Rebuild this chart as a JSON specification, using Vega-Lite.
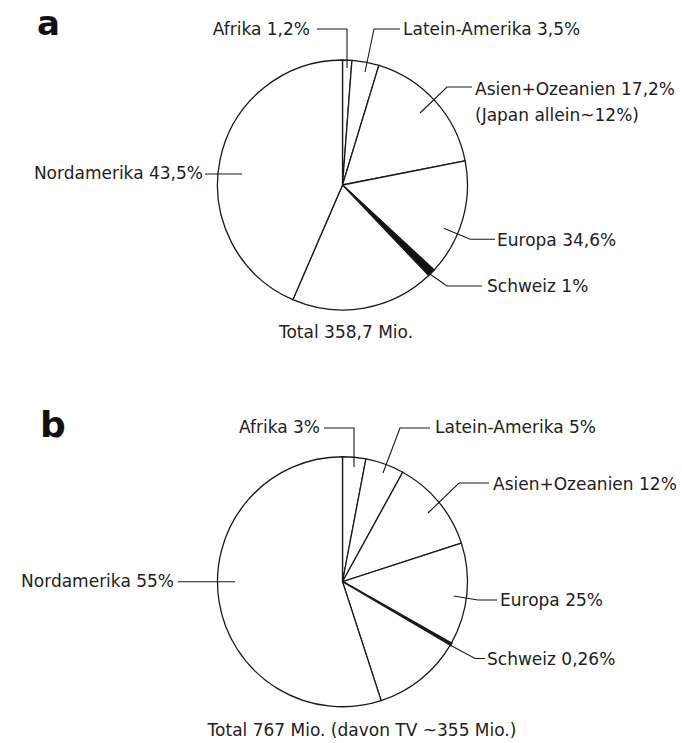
{
  "$schema": "https://vega.github.io/schema/vega-lite/v6.json",
  "padding": 0,
  "spacing": 0,
  "background": "white",
  "config": {
    "view": {"stroke": null},
    "text": {"font": "DejaVu Sans", "fontSize": 17, "color": "#222222"}
  },
  "datasets": {
    "slices": [
      {"chart": "a", "seq": 1, "region": "Afrika", "share": 1.2},
      {"chart": "a", "seq": 2, "region": "Latein-Amerika", "share": 3.5},
      {"chart": "a", "seq": 3, "region": "Asien+Ozeanien", "share": 17.2},
      {"chart": "a", "seq": 4, "region": "Europa", "share": 15.0},
      {"chart": "a", "seq": 5, "region": "Schweiz", "share": 1.0},
      {"chart": "a", "seq": 6, "region": "Europa", "share": 18.6},
      {"chart": "a", "seq": 7, "region": "Nordamerika", "share": 43.5},
      {"chart": "b", "seq": 1, "region": "Afrika", "share": 3},
      {"chart": "b", "seq": 2, "region": "Latein-Amerika", "share": 5},
      {"chart": "b", "seq": 3, "region": "Asien+Ozeanien", "share": 12},
      {"chart": "b", "seq": 4, "region": "Europa", "share": 13.2},
      {"chart": "b", "seq": 5, "region": "Schweiz", "share": 0.26},
      {"chart": "b", "seq": 6, "region": "Europa", "share": 11.54},
      {"chart": "b", "seq": 7, "region": "Nordamerika", "share": 55}
    ],
    "leaders": [
      {"chart": "a", "id": "Afrika", "seq": 1, "x": -20.4, "y": 124.8},
      {"chart": "a", "id": "Afrika", "seq": 2, "x": 3.6, "y": 124.8},
      {"chart": "a", "id": "Afrika", "seq": 3, "x": 3.6, "y": 93.6},
      {"chart": "a", "id": "Latein", "seq": 1, "x": 46, "y": 124.8},
      {"chart": "a", "id": "Latein", "seq": 2, "x": 25.2, "y": 124.8},
      {"chart": "a", "id": "Latein", "seq": 3, "x": 18, "y": 90.4},
      {"chart": "a", "id": "Asien", "seq": 1, "x": 103.6, "y": 78.4},
      {"chart": "a", "id": "Asien", "seq": 2, "x": 83.6, "y": 78.4},
      {"chart": "a", "id": "Asien", "seq": 3, "x": 62, "y": 57.6},
      {"chart": "a", "id": "Europa", "seq": 1, "x": 81, "y": -34.6},
      {"chart": "a", "id": "Europa", "seq": 2, "x": 102.2, "y": -43.4},
      {"chart": "a", "id": "Europa", "seq": 3, "x": 122, "y": -43.4},
      {"chart": "a", "id": "Schweiz", "seq": 1, "x": 69, "y": -70.6},
      {"chart": "a", "id": "Schweiz", "seq": 2, "x": 83.6, "y": -80.8},
      {"chart": "a", "id": "Schweiz", "seq": 3, "x": 111.6, "y": -80.8},
      {"chart": "a", "id": "Nord", "seq": 1, "x": -110, "y": 8.8},
      {"chart": "a", "id": "Nord", "seq": 2, "x": -80.4, "y": 8.8},
      {"chart": "b", "id": "Afrika", "seq": 1, "x": -14.8, "y": 123},
      {"chart": "b", "id": "Afrika", "seq": 2, "x": 9.2, "y": 123},
      {"chart": "b", "id": "Afrika", "seq": 3, "x": 9.2, "y": 91.8},
      {"chart": "b", "id": "Latein", "seq": 1, "x": 70, "y": 123},
      {"chart": "b", "id": "Latein", "seq": 2, "x": 46, "y": 123},
      {"chart": "b", "id": "Latein", "seq": 3, "x": 32.4, "y": 87},
      {"chart": "b", "id": "Asien", "seq": 1, "x": 117.2, "y": 79},
      {"chart": "b", "id": "Asien", "seq": 2, "x": 93.2, "y": 79},
      {"chart": "b", "id": "Asien", "seq": 3, "x": 68.4, "y": 55},
      {"chart": "b", "id": "Europa", "seq": 1, "x": 89, "y": -11.4},
      {"chart": "b", "id": "Europa", "seq": 2, "x": 108.4, "y": -14.6},
      {"chart": "b", "id": "Europa", "seq": 3, "x": 123.6, "y": -14.6},
      {"chart": "b", "id": "Schweiz", "seq": 1, "x": 86, "y": -50.6},
      {"chart": "b", "id": "Schweiz", "seq": 2, "x": 106, "y": -61.4},
      {"chart": "b", "id": "Schweiz", "seq": 3, "x": 114, "y": -61.4},
      {"chart": "b", "id": "Nord", "seq": 1, "x": -131.6, "y": 0},
      {"chart": "b", "id": "Nord", "seq": 2, "x": -86, "y": 0}
    ],
    "labels": [
      {"chart": "a", "kind": "right", "text": "Afrika 1,2%", "x": -26, "y": 124},
      {"chart": "a", "kind": "left", "text": "Latein-Amerika 3,5%", "x": 48.4, "y": 124},
      {"chart": "a", "kind": "left", "text": "Asien+Ozeanien 17,2%", "x": 106, "y": 76},
      {"chart": "a", "kind": "left", "text": "(Japan allein~12%)", "x": 106, "y": 55.2},
      {"chart": "a", "kind": "left", "text": "Europa 34,6%", "x": 123.6, "y": -44.8},
      {"chart": "a", "kind": "left", "text": "Schweiz 1%", "x": 115.6, "y": -81.6},
      {"chart": "a", "kind": "right", "text": "Nordamerika 43,5%", "x": -111.6, "y": 9.2},
      {"chart": "a", "kind": "center", "text": "Total 358,7 Mio.", "x": 2.8, "y": -118.4},
      {"chart": "a", "kind": "letter", "text": "a", "x": -244.4, "y": 120},
      {"chart": "b", "kind": "right", "text": "Afrika 3%", "x": -18, "y": 123},
      {"chart": "b", "kind": "left", "text": "Latein-Amerika 5%", "x": 74, "y": 123},
      {"chart": "b", "kind": "left", "text": "Asien+Ozeanien 12%", "x": 120.4, "y": 77.4},
      {"chart": "b", "kind": "left", "text": "Europa 25%", "x": 126, "y": -15.4},
      {"chart": "b", "kind": "left", "text": "Schweiz 0,26%", "x": 115.6, "y": -62.6},
      {"chart": "b", "kind": "right", "text": "Nordamerika 55%", "x": -134.8, "y": 0},
      {"chart": "b", "kind": "center", "text": "Total 767 Mio. (davon TV ~355 Mio.)", "x": 15.6, "y": -119.5},
      {"chart": "b", "kind": "letter", "text": "b", "x": -242, "y": 115.8}
    ]
  },
  "vconcat": [
    {
      "width": 682,
      "height": 371,
      "layer": [
        {
          "data": {"name": "slices"},
          "transform": [{"filter": "datum.chart === 'a'"}],
          "mark": {"type": "arc", "outerRadius": 125, "stroke": "#1a1a1a", "strokeWidth": 1.3},
          "encoding": {
            "x": {"datum": 0, "type": "quantitative", "scale": {"domain": [-274, 271.6], "nice": false, "zero": false}, "axis": null},
            "y": {"datum": 0, "type": "quantitative", "scale": {"domain": [-148.8, 148], "nice": false, "zero": false}, "axis": null},
            "theta": {"field": "share", "type": "quantitative", "stack": true},
            "order": {"field": "seq", "type": "quantitative"},
            "fill": {"condition": {"test": "datum.region === 'Schweiz'", "value": "#111111"}, "value": "white"}
          }
        },
        {
          "data": {"name": "leaders"},
          "transform": [{"filter": "datum.chart === 'a'"}],
          "mark": {"type": "line", "stroke": "#1a1a1a", "strokeWidth": 1.1},
          "encoding": {
            "x": {"field": "x", "type": "quantitative", "scale": {"domain": [-274, 271.6], "nice": false, "zero": false}, "axis": null},
            "y": {"field": "y", "type": "quantitative", "scale": {"domain": [-148.8, 148], "nice": false, "zero": false}, "axis": null},
            "detail": {"field": "id"},
            "order": {"field": "seq", "type": "quantitative"}
          }
        },
        {
          "data": {"name": "labels"},
          "transform": [{"filter": "datum.chart === 'a' && datum.kind === 'left'"}],
          "mark": {"type": "text", "align": "left", "baseline": "middle"},
          "encoding": {
            "x": {"field": "x", "type": "quantitative", "scale": {"domain": [-274, 271.6], "nice": false, "zero": false}, "axis": null},
            "y": {"field": "y", "type": "quantitative", "scale": {"domain": [-148.8, 148], "nice": false, "zero": false}, "axis": null},
            "text": {"field": "text"}
          }
        },
        {
          "data": {"name": "labels"},
          "transform": [{"filter": "datum.chart === 'a' && datum.kind === 'right'"}],
          "mark": {"type": "text", "align": "right", "baseline": "middle"},
          "encoding": {
            "x": {"field": "x", "type": "quantitative", "scale": {"domain": [-274, 271.6], "nice": false, "zero": false}, "axis": null},
            "y": {"field": "y", "type": "quantitative", "scale": {"domain": [-148.8, 148], "nice": false, "zero": false}, "axis": null},
            "text": {"field": "text"}
          }
        },
        {
          "data": {"name": "labels"},
          "transform": [{"filter": "datum.chart === 'a' && datum.kind === 'center'"}],
          "mark": {"type": "text", "align": "center", "baseline": "middle"},
          "encoding": {
            "x": {"field": "x", "type": "quantitative", "scale": {"domain": [-274, 271.6], "nice": false, "zero": false}, "axis": null},
            "y": {"field": "y", "type": "quantitative", "scale": {"domain": [-148.8, 148], "nice": false, "zero": false}, "axis": null},
            "text": {"field": "text"}
          }
        },
        {
          "data": {"name": "labels"},
          "transform": [{"filter": "datum.chart === 'a' && datum.kind === 'letter'"}],
          "mark": {"type": "text", "align": "left", "baseline": "alphabetic", "fontSize": 34, "fontWeight": "bold", "color": "#111111"},
          "encoding": {
            "x": {"field": "x", "type": "quantitative", "scale": {"domain": [-274, 271.6], "nice": false, "zero": false}, "axis": null},
            "y": {"field": "y", "type": "quantitative", "scale": {"domain": [-148.8, 148], "nice": false, "zero": false}, "axis": null},
            "text": {"field": "text"}
          }
        }
      ]
    },
    {
      "width": 682,
      "height": 371,
      "layer": [
        {
          "data": {"name": "slices"},
          "transform": [{"filter": "datum.chart === 'b'"}],
          "mark": {"type": "arc", "outerRadius": 125, "stroke": "#1a1a1a", "strokeWidth": 1.3},
          "encoding": {
            "x": {"datum": 0, "type": "quantitative", "scale": {"domain": [-274, 271.6], "nice": false, "zero": false}, "axis": null},
            "y": {"datum": 0, "type": "quantitative", "scale": {"domain": [-128.2, 168.6], "nice": false, "zero": false}, "axis": null},
            "theta": {"field": "share", "type": "quantitative", "stack": true},
            "order": {"field": "seq", "type": "quantitative"},
            "fill": {"condition": {"test": "datum.region === 'Schweiz'", "value": "#111111"}, "value": "white"},
            "strokeWidth": {"condition": {"test": "datum.region === 'Schweiz'", "value": 2.4}, "value": 1.3}
          }
        },
        {
          "data": {"name": "leaders"},
          "transform": [{"filter": "datum.chart === 'b'"}],
          "mark": {"type": "line", "stroke": "#1a1a1a", "strokeWidth": 1.1},
          "encoding": {
            "x": {"field": "x", "type": "quantitative", "scale": {"domain": [-274, 271.6], "nice": false, "zero": false}, "axis": null},
            "y": {"field": "y", "type": "quantitative", "scale": {"domain": [-128.2, 168.6], "nice": false, "zero": false}, "axis": null},
            "detail": {"field": "id"},
            "order": {"field": "seq", "type": "quantitative"}
          }
        },
        {
          "data": {"name": "labels"},
          "transform": [{"filter": "datum.chart === 'b' && datum.kind === 'left'"}],
          "mark": {"type": "text", "align": "left", "baseline": "middle"},
          "encoding": {
            "x": {"field": "x", "type": "quantitative", "scale": {"domain": [-274, 271.6], "nice": false, "zero": false}, "axis": null},
            "y": {"field": "y", "type": "quantitative", "scale": {"domain": [-128.2, 168.6], "nice": false, "zero": false}, "axis": null},
            "text": {"field": "text"}
          }
        },
        {
          "data": {"name": "labels"},
          "transform": [{"filter": "datum.chart === 'b' && datum.kind === 'right'"}],
          "mark": {"type": "text", "align": "right", "baseline": "middle"},
          "encoding": {
            "x": {"field": "x", "type": "quantitative", "scale": {"domain": [-274, 271.6], "nice": false, "zero": false}, "axis": null},
            "y": {"field": "y", "type": "quantitative", "scale": {"domain": [-128.2, 168.6], "nice": false, "zero": false}, "axis": null},
            "text": {"field": "text"}
          }
        },
        {
          "data": {"name": "labels"},
          "transform": [{"filter": "datum.chart === 'b' && datum.kind === 'center'"}],
          "mark": {"type": "text", "align": "center", "baseline": "middle"},
          "encoding": {
            "x": {"field": "x", "type": "quantitative", "scale": {"domain": [-274, 271.6], "nice": false, "zero": false}, "axis": null},
            "y": {"field": "y", "type": "quantitative", "scale": {"domain": [-128.2, 168.6], "nice": false, "zero": false}, "axis": null},
            "text": {"field": "text"}
          }
        },
        {
          "data": {"name": "labels"},
          "transform": [{"filter": "datum.chart === 'b' && datum.kind === 'letter'"}],
          "mark": {"type": "text", "align": "left", "baseline": "alphabetic", "fontSize": 36, "fontWeight": "bold", "color": "#111111"},
          "encoding": {
            "x": {"field": "x", "type": "quantitative", "scale": {"domain": [-274, 271.6], "nice": false, "zero": false}, "axis": null},
            "y": {"field": "y", "type": "quantitative", "scale": {"domain": [-128.2, 168.6], "nice": false, "zero": false}, "axis": null},
            "text": {"field": "text"}
          }
        }
      ]
    }
  ]
}
